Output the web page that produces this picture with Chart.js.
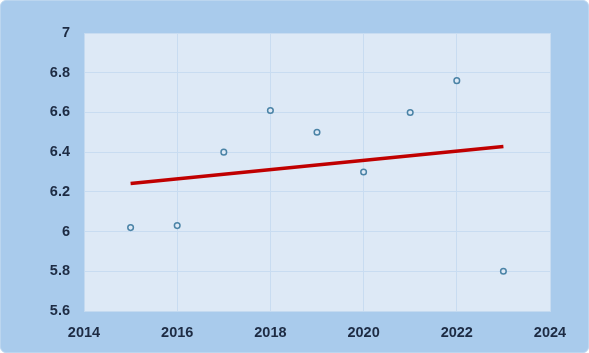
<!DOCTYPE html>
<html>
<head>
<meta charset="utf-8">
<script src="https://cdn.jsdelivr.net/npm/chart.js@4/dist/chart.umd.min.js"></script>
<style>
    html, body { margin: 0; padding: 0; background: #ffffff; }
    .card {
        width: 587px; height: 351px;
        border: 1px solid #bcd6ef;
        border-radius: 6px;
        background: #a9cbec;
        overflow: hidden;
        position: relative;
    }
    canvas { position: absolute; left: -1px; top: -1px; }
</style>
</head>
<body>
<div class="card"><canvas id="chart" width="589" height="353"></canvas></div>
<script>
// Data
const years = [2015, 2016, 2017, 2018, 2019, 2020, 2021, 2022, 2023];
const values = [6.02, 6.03, 6.40, 6.61, 6.50, 6.30, 6.60, 6.76, 5.80];
const xTicks = [2014, 2016, 2018, 2020, 2022, 2024];
const yTicks = [5.6, 5.8, 6, 6.2, 6.4, 6.6, 6.8, 7];

// Linear trendline (least squares) over the points
function trendline(xs, ys) {
    const n = xs.length;
    const mx = xs.reduce((a, b) => a + b, 0) / n;
    const my = ys.reduce((a, b) => a + b, 0) / n;
    let sxy = 0, sxx = 0;
    xs.forEach((x, i) => { sxy += (x - mx) * (ys[i] - my); sxx += (x - mx) * (x - mx); });
    const slope = sxy / sxx;
    const first = xs[0], last = xs[n - 1];
    return [
        { x: first, y: my + slope * (first - mx) },
        { x: last, y: my + slope * (last - mx) }
    ];
}

// Plot area background
const plotBg = {
    id: 'plotBg',
    beforeDraw(chart) {
        const { ctx, chartArea: a } = chart;
        ctx.save();
        ctx.fillStyle = '#dde9f6';
        ctx.fillRect(a.left, a.top, a.right - a.left, a.bottom - a.top);
        ctx.restore();
    }
};

const tickFont = { family: 'Liberation Sans', size: 14.5, weight: 'bold' };

const ctx = document.getElementById('chart').getContext('2d');
new Chart(ctx, {
    type: 'scatter',
    data: {
        datasets: [
            {
                label: 'Trend',
                type: 'line',
                data: trendline(years, values),
                borderColor: '#c00000',
                borderWidth: 3.5,
                pointRadius: 0,
                fill: false,
                order: 2
            },
            {
                label: 'Values',
                data: years.map((y, i) => ({ x: y, y: values[i] })),
                backgroundColor: '#dde9f6',
                borderColor: '#4a83a6',
                borderWidth: 1.5,
                pointRadius: 2.8,
                order: 1
            }
        ]
    },
    plugins: [plotBg],
    options: {
        responsive: false,
        animation: false,
        layout: { padding: { left: 0, right: 39, top: 33, bottom: 0 } },
        plugins: {
            legend: { display: false },
            tooltip: { enabled: false }
        },
        scales: {
            x: {
                type: 'linear',
                min: 2014,
                max: 2024,
                afterBuildTicks(axis) { axis.ticks = xTicks.map(v => ({ value: v })); },
                afterFit(axis) { axis.height = 42; },
                grid: { color: '#c8dcf1', lineWidth: 1, drawTicks: false },
                border: { color: '#c4daf0', width: 1 },
                ticks: {
                    padding: 13,
                    color: '#1d2b43',
                    font: tickFont,
                    callback: v => String(v)
                }
            },
            y: {
                min: 5.6,
                max: 7,
                afterBuildTicks(axis) { axis.ticks = yTicks.map(v => ({ value: v })); },
                afterFit(axis) { axis.width = 84; },
                grid: { color: '#c8dcf1', lineWidth: 1, drawTicks: false },
                border: { color: '#c4daf0', width: 1 },
                ticks: {
                    padding: 14,
                    color: '#1d2b43',
                    font: tickFont,
                    callback: v => String(Math.round(v * 10) / 10)
                }
            }
        }
    }
});
</script>
</body>
</html>
